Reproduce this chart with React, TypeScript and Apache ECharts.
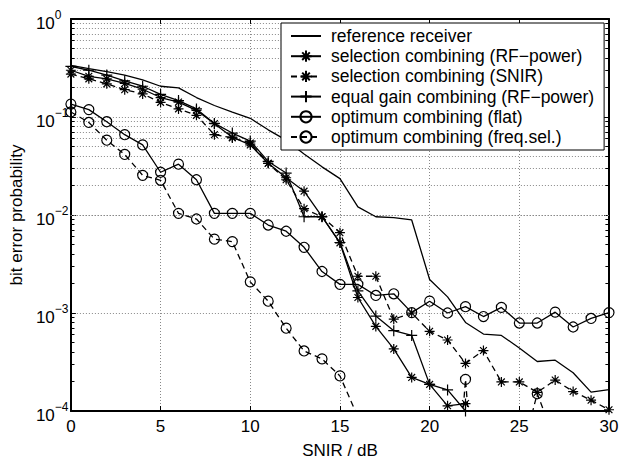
import React, { useEffect, useRef } from "react";
import * as echarts from "echarts";

const snir = [0, 1, 2, 3, 4, 5, 6, 7, 8, 9, 10, 11, 12, 13, 14, 15, 16, 17, 18, 19, 20, 21, 22, 23, 24, 25, 26, 27, 28, 29, 30];

const referenceReceiver = [0.336, 0.312, 0.29, 0.268, 0.239, 0.206, 0.198, 0.158, 0.131, 0.112, 0.097, 0.074, 0.058, 0.042, 0.031, 0.0235, 0.0121, 0.0096, 0.0094, 0.0089, 0.0022, 0.00146, 0.0008, 0.00061, 0.00059, 0.00044, 0.00032, 0.00033, 0.000246, 0.000156, 0.000165];

const selRF = [0.3, 0.26, 0.245, 0.22, 0.192, 0.158, 0.142, 0.117, 0.0855, 0.0622, 0.0519, 0.0337, 0.024, 0.0175, 0.0096, 0.0052, 0.00144, 0.00073, 0.00043, 0.00022, 0.000187, 0.000113, 0.000119, null, null, null, null, null, null, null, null];

const selSNIR = [0.274, 0.245, 0.218, 0.19, 0.172, 0.141, 0.121, 0.104, 0.066, 0.0612, 0.0543, 0.0337, 0.0229, 0.0116, 0.0096, 0.0066, 0.00237, 0.00237, 0.000865, 0.001, 0.00065, 0.00053, 0.000306, 0.000414, 0.000198, 0.000198, 0.000155, 0.000207, 0.000158, 0.000129, 0.000103];

const eqGain = [0.329, 0.3, 0.268, 0.234, 0.206, 0.17, 0.147, 0.121, 0.086, 0.0686, 0.0568, 0.0352, 0.0268, 0.0096, 0.0096, 0.00524, 0.00168, 0.00093, 0.00066, 0.00059, 0.000187, 0.000164, 0.0001, null, null, null, null, null, null, null, null];

const optFlat = [0.1356, 0.119, 0.0895, 0.066, 0.0519, 0.0273, 0.033, 0.0229, 0.0104, 0.0104, 0.0104, 0.0079, 0.00683, 0.00468, 0.00265, 0.00196, 0.00196, 0.00151, 0.00157, 0.00101, 0.00132, 0.001, 0.00116, 0.00092, 0.00114, 0.00079, 0.00079, 0.00102, 0.00072, 0.00088, 0.00101];

const optFreqSel = [0.1125, 0.088, 0.058, 0.0415, 0.0254, 0.0226, 0.0104, 0.0091, 0.00567, 0.00535, 0.00208, 0.00132, 0.0007, 0.00041, 0.00034, 0.000228, 0.000087, null, null, null, null, 0.000001, 0.00021, 0.000001, null, 0.00003, 0.00015, 0.00005, null, null, null];

const seriesNames = [
  "reference receiver",
  "selection combining (RF\u2212power)",
  "selection combining (SNIR)",
  "equal gain combining (RF\u2212power)",
  "optimum combining (flat)",
  "optimum combining (freq.sel.)",
];

const decades = [-4, -3, -2, -1];
const minorMultipliers = [2, 3, 4, 5, 6, 7, 8, 9];

const FONT = "Liberation Sans, Arial, Helvetica, sans-serif";
const STAR = "path://M5,0L5,10M0,5L10,5M1.6,1.6L8.4,8.4M1.6,8.4L8.4,1.6";
const PLUS = "path://M5,0L5,10M0,5L10,5";

function pairs(vals: (number | null)[]) {
  return snir.map((x, i) => [x, vals[i] === null ? null : vals[i]]);
}

export default function App() {
  const ref = useRef<HTMLDivElement>(null);
  useEffect(() => {
    if (!ref.current) return;
    const chart = echarts.init(ref.current, undefined, { renderer: "svg" });

    const minorVals: number[] = [];
    decades.forEach((d) => minorMultipliers.forEach((m) => minorVals.push(m * Math.pow(10, d))));

    const gridMarks: any[] = minorVals.map((v) => ({ yAxis: v, lineStyle: { type: [1, 2], color: "#888", width: 1 } }));
    const tickMarks: any[] = [];
    minorVals.forEach((v) => {
      tickMarks.push([{ coord: [0, v] }, { coord: [0.2, v] }]);
      tickMarks.push([{ coord: [29.8, v] }, { coord: [30, v] }]);
    });

    const lineBase = {
      type: "line",
      animation: false,
      clip: true,
      connectNulls: false,
      symbolKeepAspect: true,
    };

    const symStyle = { color: "rgba(0,0,0,0)", borderColor: "#000", borderWidth: 1.2 };

    const option: any = {
      animation: false,
      backgroundColor: "#fff",
      textStyle: { fontFamily: FONT },
      grid: { left: 67, right: 17, top: 19, bottom: 40, containLabel: false },
      legend: {
        data: seriesNames,
        orient: "vertical",
        left: 281,
        top: 23,
        padding: [4, 10, 4, 9],
        itemWidth: 30,
        itemHeight: 14,
        itemGap: 2.2,
        backgroundColor: "#fff",
        borderColor: "#000",
        borderWidth: 1,
        borderRadius: 0,
        textStyle: { fontFamily: FONT, fontSize: 17.5, lineHeight: 18, color: "#000", padding: [0, 0, 0, 5] },
        selectedMode: false,
      },
      xAxis: [
        {
          type: "value",
          min: 0,
          max: 30,
          interval: 5,
          name: "SNIR / dB",
          nameLocation: "middle",
          nameGap: 31,
          nameTextStyle: { fontFamily: FONT, fontSize: 17, color: "#000", verticalAlign: "top" },
          axisLine: { show: true, onZero: false, lineStyle: { color: "#000", width: 2 } },
          axisTick: { show: true, inside: true, length: 5, lineStyle: { color: "#000", width: 1 } },
          axisLabel: { fontFamily: FONT, fontSize: 17, color: "#000", margin: 7 },
          splitLine: { show: true, lineStyle: { type: [1, 2], color: "#888", width: 1 } },
        },
        {
          type: "value",
          position: "top",
          min: 0,
          max: 30,
          interval: 5,
          axisLine: { show: true, onZero: false, lineStyle: { color: "#000", width: 2 } },
          axisTick: { show: true, inside: true, length: 5, lineStyle: { color: "#000", width: 1 } },
          axisLabel: { show: false },
          splitLine: { show: false },
        },
      ],
      yAxis: [
        {
          type: "log",
          logBase: 10,
          min: 0.0001,
          max: 1,
          name: "bit error probability",
          nameLocation: "middle",
          nameGap: 32,
          nameRotate: 90,
          nameTextStyle: { fontFamily: FONT, fontSize: 17, color: "#000" },
          axisLine: { show: true, onZero: false, lineStyle: { color: "#000", width: 2 } },
          axisTick: { show: true, inside: true, length: 5, lineStyle: { color: "#000", width: 1 } },
          axisLabel: {
            margin: 35,
            align: "left",
            formatter: (v: number) => {
              const e = Math.round(Math.log10(v));
              const s = e < 0 ? "\u2212" + -e : String(e);
              return "{b|10}{s|" + s + "}";
            },
            rich: {
              b: { fontFamily: FONT, fontSize: 17, color: "#000", padding: [8, 0, 0, 0] },
              s: { fontFamily: FONT, fontSize: 12, color: "#000", padding: [0, 0, 8, 0] },
            },
          },
          splitLine: { show: true, lineStyle: { type: [1, 2], color: "#888", width: 1 } },
        },
        {
          type: "log",
          logBase: 10,
          min: 0.0001,
          max: 1,
          position: "right",
          axisLine: { show: true, onZero: false, lineStyle: { color: "#000", width: 2 } },
          axisTick: { show: true, inside: true, length: 5, lineStyle: { color: "#000", width: 1 } },
          axisLabel: { show: false },
          splitLine: { show: false },
        },
      ],
      series: [
        {
          ...lineBase,
          name: seriesNames[0],
          data: pairs(referenceReceiver),
          symbol: "none",
          lineStyle: { color: "#000", width: 1.3, type: "solid" },
          itemStyle: { color: "rgba(0,0,0,0)", borderWidth: 0 },
          z: 3,
          markLine: {
            silent: true,
            symbol: ["none", "none"],
            label: { show: false },
            animation: false,
            lineStyle: { color: "#000", width: 1, type: "solid" },
            data: [...gridMarks, ...tickMarks],
            z: 1,
          },
        },
        {
          ...lineBase,
          name: seriesNames[1],
          data: pairs(selRF),
          symbol: STAR,
          symbolSize: 10,
          lineStyle: { color: "#000", width: 1.3, type: "solid" },
          itemStyle: symStyle,
          z: 4,
        },
        {
          ...lineBase,
          name: seriesNames[2],
          data: pairs(selSNIR),
          symbol: STAR,
          symbolSize: 10,
          lineStyle: { color: "#000", width: 1.3, type: [6, 4] },
          itemStyle: symStyle,
          z: 4,
        },
        {
          ...lineBase,
          name: seriesNames[3],
          data: pairs(eqGain),
          symbol: PLUS,
          symbolSize: 11,
          lineStyle: { color: "#000", width: 1.3, type: "solid" },
          itemStyle: symStyle,
          z: 4,
        },
        {
          ...lineBase,
          name: seriesNames[4],
          data: pairs(optFlat),
          symbol: "circle",
          symbolSize: 10,
          lineStyle: { color: "#000", width: 1.3, type: "solid" },
          itemStyle: symStyle,
          z: 4,
        },
        {
          ...lineBase,
          name: seriesNames[5],
          data: pairs(optFreqSel),
          symbol: "circle",
          symbolSize: 10,
          lineStyle: { color: "#000", width: 1.3, type: [6, 4] },
          itemStyle: symStyle,
          z: 4,
        },
      ],
    };
    chart.setOption(option);
    return () => chart.dispose();
  }, []);
  return (
    <div
      ref={ref}
      style={{ position: "fixed", left: 0, top: 0, width: 626, height: 464, background: "#fff" }}
    />
  );
}
